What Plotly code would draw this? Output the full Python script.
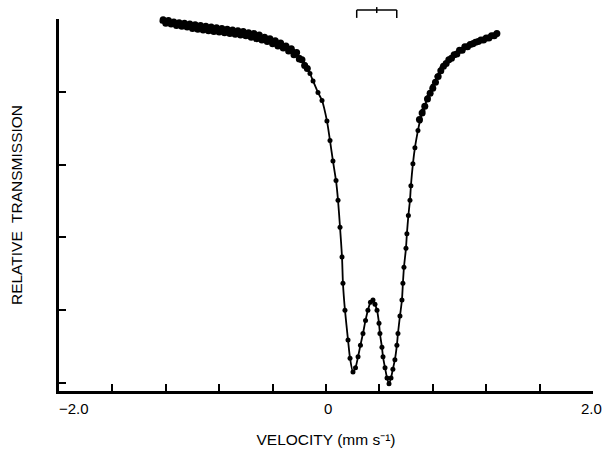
import plotly.graph_objects as go

# Fitted curve / main measured points (velocity mm/s, relative transmission %)
fit_x = [-1.228, -1.168, -1.070, -0.943, -0.816, -0.696, -0.569, -0.472, -0.367, -0.307,
         -0.247, -0.195, -0.157, -0.120, -0.097, -0.060, -0.030, 0.007, 0.030, 0.052,
         0.075, 0.090, 0.105, 0.120, 0.127, 0.142, 0.165, 0.180, 0.202, 0.221,
         0.240, 0.258, 0.277, 0.296, 0.314, 0.333, 0.352, 0.367, 0.382, 0.397,
         0.404, 0.419, 0.427, 0.442, 0.457, 0.472, 0.487, 0.501, 0.516, 0.531,
         0.539, 0.554, 0.569, 0.576, 0.584, 0.599, 0.606, 0.617, 0.629, 0.636,
         0.651, 0.666, 0.689, 0.704, 0.726, 0.763, 0.801, 0.831, 0.868, 0.921,
         0.981, 1.040, 1.100, 1.160, 1.220, 1.280]
fit_y = [99.97, 99.95, 99.92, 99.89, 99.86, 99.83, 99.79, 99.74, 99.67, 99.62,
         99.56, 99.47, 99.37, 99.25, 99.15, 98.99, 98.88, 98.60, 98.33, 98.05,
         97.78, 97.51, 97.14, 96.73, 96.37, 96.00, 95.59, 95.34, 95.15, 95.21,
         95.36, 95.52, 95.68, 95.86, 96.00, 96.11, 96.14, 96.08, 96.00, 95.82,
         95.68, 95.49, 95.36, 95.21, 95.07, 94.99, 95.07, 95.19, 95.32, 95.52,
         95.68, 95.92, 96.14, 96.37, 96.59, 96.85, 97.05, 97.30, 97.51, 97.71,
         98.01, 98.23, 98.47, 98.60, 98.74, 98.92, 99.08, 99.21, 99.33, 99.44,
         99.53, 99.62, 99.67, 99.71, 99.75, 99.79]

# Additional measured points in the wings
wing_x = [-1.22, -1.20, -1.18, -1.16, -1.14, -1.12, -1.10, -1.08, -1.06, -1.04,
          -1.02, -1.00, -0.98, -0.96, -0.94, -0.92, -0.90, -0.88, -0.86, -0.84,
          -0.82, -0.80, -0.78, -0.76, -0.74, -0.72, -0.70, -0.68, -0.66, -0.64,
          -0.62, -0.60, -0.58, -0.56, -0.54, -0.52, -0.50, -0.48, -0.46, -0.44,
          -0.42, -0.40, -0.38, -0.36, -0.34, -0.32, -0.30, -0.28, -0.26, -0.24,
          -0.22, -0.20, -0.18, -0.16, -0.14,
          0.70, 0.72, 0.74, 0.76, 0.78, 0.80, 0.82, 0.84, 0.86, 0.88,
          0.90, 0.92, 0.94, 0.96, 0.98, 1.00, 1.02, 1.04, 1.06, 1.08,
          1.10, 1.12, 1.14, 1.16, 1.18, 1.20, 1.22, 1.24, 1.26, 1.28]
wing_y = [99.99, 99.94, 99.98, 99.93, 99.96, 99.91, 99.95, 99.90, 99.94, 99.89,
          99.93, 99.87, 99.92, 99.86, 99.91, 99.85, 99.90, 99.84, 99.89, 99.83,
          99.88, 99.82, 99.87, 99.81, 99.86, 99.80, 99.85, 99.79, 99.84, 99.78,
          99.83, 99.77, 99.81, 99.75, 99.80, 99.73, 99.78, 99.71, 99.75, 99.69,
          99.73, 99.66, 99.70, 99.63, 99.67, 99.60, 99.63, 99.56, 99.59, 99.51,
          99.54, 99.45, 99.44, 99.36, 99.32,
          98.62, 98.71, 98.80, 98.90, 98.98, 99.05, 99.13, 99.21, 99.29, 99.35,
          99.39, 99.44, 99.46, 99.51, 99.52, 99.57, 99.57, 99.62, 99.62, 99.65,
          99.66, 99.68, 99.69, 99.71, 99.71, 99.74, 99.74, 99.77, 99.77, 99.80]

# Line-position bracket (velocity)
bracket_x = [0.23, 0.53]
bracket_center = 0.38

x_tickvals = [-2.0, -1.6, -1.2, -0.8, -0.4, 0.0, 0.4, 0.8, 1.2, 1.6, 2.0]
x_labels = [(-2.0, "\u22122.0"), (0.0, "0"), (2.0, "2.0")]
y_tickvals = [100, 99, 98, 97, 96, 95]

fig = go.Figure()
fig.add_trace(go.Scatter(x=wing_x, y=wing_y, mode="markers",
                         marker=dict(color="black", size=7),
                         cliponaxis=False, showlegend=False))
fig.add_trace(go.Scatter(x=fit_x, y=fit_y, mode="lines+markers",
                         line=dict(color="black", width=1.8, shape="spline", smoothing=0.6),
                         marker=dict(color="black", size=5),
                         cliponaxis=False, showlegend=False))

# bracket at top
fig.add_shape(type="line", xref="x", yref="paper", x0=bracket_x[0], x1=bracket_x[1],
              y0=1.024, y1=1.024, line=dict(color="black", width=1.5))
for bx in bracket_x:
    fig.add_shape(type="line", xref="x", yref="paper", x0=bx, x1=bx,
                  y0=1.003, y1=1.024, line=dict(color="black", width=1.5))
fig.add_shape(type="line", xref="x", yref="paper", x0=bracket_center, x1=bracket_center,
              y0=1.016, y1=1.032, line=dict(color="black", width=1.5))

# x tick labels as annotations (the -2.0 label sits to the right of its tick, as in the original)
anchors = {"\u22122.0": ("left", -2), "0": ("center", 2), "2.0": ("center", -2)}
for xv, txt in x_labels:
    xa, xs = anchors[txt]
    fig.add_annotation(x=xv, y=0, xref="x", yref="paper", text=txt, showarrow=False,
                       xanchor=xa, yanchor="middle", xshift=xs, yshift=-17,
                       font=dict(size=15, color="black"))

fig.update_layout(
    width=602, height=452,
    margin=dict(l=59, r=9, t=19, b=61),
    paper_bgcolor="white", plot_bgcolor="white",
    font=dict(family="Arial, Liberation Sans, sans-serif", color="black", size=15),
    xaxis=dict(range=[-2.0, 2.0], tickvals=x_tickvals, showticklabels=False,
               ticks="inside", ticklen=7, tickwidth=1.5, tickcolor="black",
               showline=True, linecolor="black", linewidth=2.5, showgrid=False,
               zeroline=False, automargin=False,
               title=dict(text="VELOCITY (mm s\u207b\u00b9)", font=dict(size=15.5), standoff=42)),
    yaxis=dict(range=[94.89, 100.0], tickvals=y_tickvals, showticklabels=False,
               ticks="inside", ticklen=7, tickwidth=1.5, tickcolor="black",
               showline=True, linecolor="black", linewidth=2.5, showgrid=False,
               zeroline=False, automargin=False,
               title=dict(text="RELATIVE  TRANSMISSION", font=dict(size=15.5), standoff=30)),
)

fig.write_html("out.html")
